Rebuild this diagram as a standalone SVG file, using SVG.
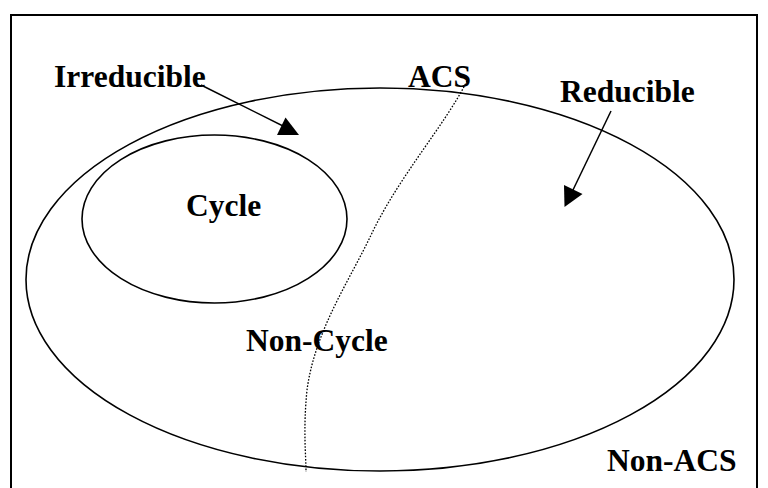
<svg xmlns="http://www.w3.org/2000/svg" width="768" height="488" viewBox="0 0 768 488">
  <style>
    .set { fill: none; stroke: #000; stroke-width: 1.6; }
    .lbl { font-family: "Liberation Serif", "Times New Roman", serif; font-weight: bold; font-size: 31.5px; fill: #000; }
    .arrow { stroke: #000; stroke-width: 1.5; fill: none; }
    .head { fill: #000; stroke: none; }
    .split { fill: none; stroke: #000; stroke-width: 1.3; stroke-dasharray: 1.6 1.6; }
  </style>
  <rect width="768" height="488" fill="#fff"/>

  <!-- outer frame (Non-ACS region) -->
  <g id="non-acs">
    <rect x="11" y="15" width="746" height="490" fill="none" stroke="#000" stroke-width="2"/>
    <text class="lbl" x="607" y="471">Non-ACS</text>
  </g>

  <!-- ACS set -->
  <g id="acs">
    <ellipse class="set" cx="380" cy="279.5" rx="354" ry="191.5"/>
    <text class="lbl" x="408" y="87">ACS</text>
  </g>

  <!-- Cycle subset -->
  <g id="cycle">
    <ellipse class="set" cx="214.5" cy="219" rx="132.5" ry="84"/>
    <text class="lbl" x="186" y="216">Cycle</text>
  </g>

  <g id="non-cycle">
    <text class="lbl" x="246" y="351">Non-Cycle</text>
  </g>

  <g id="irreducible">
    <text class="lbl" x="54" y="87">Irreducible</text>
  </g>

  <g id="reducible">
    <text class="lbl" x="560" y="102">Reducible</text>
  </g>

  <!-- connectors -->
  <g id="connectors">
    <line class="arrow" x1="201" y1="85" x2="289" y2="129"/>
    <polygon class="head" points="285.5,117.5 277,135 299,135"/>
    <line class="arrow" x1="611" y1="111" x2="572" y2="192"/>
    <polygon class="head" points="564,185 582.5,194 564.5,207"/>
    <path class="split" d="M467,81 C445,125 400,175 372,233 C350,280 315,330 307,390 C303,430 306,455 306,472"/>
  </g>
</svg>
